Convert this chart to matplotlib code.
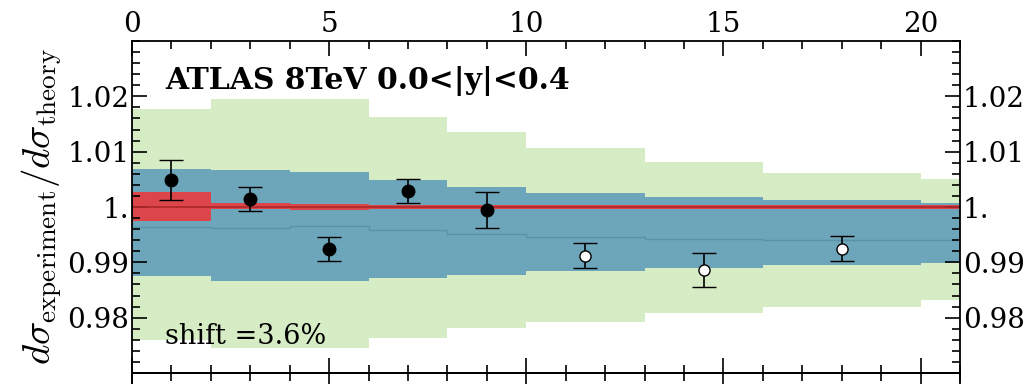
import numpy as np
import matplotlib
matplotlib.use("Agg")
import matplotlib.pyplot as plt
from matplotlib.lines import Line2D
from matplotlib.ticker import MultipleLocator, FixedLocator, FixedFormatter, NullFormatter

# bins in x and the bands
edges = [0, 2, 4, 6, 8, 10, 13, 16, 20, 22]
green_hi = [1.0178, 1.0195, 1.0195, 1.0163, 1.0135, 1.0107, 1.0081, 1.0062, 1.0051]
green_lo = [0.9759, 0.9746, 0.9746, 0.9764, 0.9781, 0.9793, 0.9808, 0.9820, 0.9832]
blue_hi = [1.0069, 1.0066, 1.0064, 1.0049, 1.0036, 1.0025, 1.0018, 1.0012, 1.0008]
blue_lo = [0.9875, 0.9867, 0.9867, 0.9872, 0.9878, 0.9884, 0.9890, 0.9895, 0.9899]
blue_mid = [0.9964, 0.9962, 0.9965, 0.9959, 0.9952, 0.9946, 0.9943, 0.9941, 0.9941]
red_hi = [1.0027, 1.0008, 1.0006, 1.0003, 1.0003, 1.0003, 1.0003, 1.0003, 1.0003]
red_lo = [0.9975, 0.9996, 0.9995, 0.9997, 0.9997, 0.9997, 0.9997, 0.9997, 0.9997]

# data points
x_pts = [1, 3, 5, 7, 9, 11.5, 14.5, 18]
y_pts = [1.0049, 1.0015, 0.9924, 1.0029, 0.9995, 0.9912, 0.9886, 0.9925]
y_err = [0.0036, 0.0022, 0.0022, 0.0022, 0.0033, 0.0023, 0.0031, 0.0022]
filled = [True, True, True, True, True, False, False, False]

y_ticks = [0.98, 0.99, 1.0, 1.01, 1.02]
y_labels = ["0.98", "0.99", "1.", "1.01", "1.02"]

plt.rcParams["font.family"] = ["DejaVu Serif"]
plt.rcParams["mathtext.fontset"] = "cm"

fig = plt.figure(figsize=(10.25, 3.84), dpi=100)
ax = fig.add_axes([0.1288, 0.0286, 0.8078, 0.8646])

ax.stairs(green_hi, edges, baseline=green_lo, fill=True, color="#d6ecc5", lw=0)
ax.stairs(blue_hi, edges, baseline=blue_lo, fill=True, color="#6da6ba", lw=0)
ax.stairs(blue_mid, edges, baseline=None, color="#5a93a8", lw=1)
ax.stairs(red_hi, edges, baseline=red_lo, fill=True, color="#dc464b", lw=0)
ax.axhline(1.0, color="#b02a2a", lw=1.3)

for x, y, e, f in zip(x_pts, y_pts, y_err, filled):
    ax.errorbar(x, y, yerr=e, fmt="o", ms=9 if f else 8,
                mfc="black" if f else "white", mec="black", mew=1,
                ecolor="black", elinewidth=1.2, capsize=8.5, capthick=1.2)

ax.set_xlim(0, 21)
ax.set_ylim(0.97, 1.03)

ax.xaxis.set_major_locator(MultipleLocator(5))
ax.xaxis.set_minor_locator(MultipleLocator(1))
ax.yaxis.set_major_locator(FixedLocator(y_ticks))
ax.yaxis.set_major_formatter(FixedFormatter(y_labels))
ax.yaxis.set_minor_locator(MultipleLocator(0.002))

ax.tick_params(axis="both", which="both", direction="in", top=True, right=True,
               labeltop=True, labelbottom=False, labelleft=True, labelright=True,
               labelsize=20, width=1.2, pad=2)
ax.tick_params(axis="both", which="major", length=11)
ax.tick_params(axis="both", which="minor", length=6)
for s in ax.spines.values():
    s.set_linewidth(1.3)

# the panel below starts here: its ticks poke out under the bottom spine
sec = ax.secondary_xaxis("bottom")
sec.xaxis.set_major_locator(MultipleLocator(5))
sec.xaxis.set_minor_locator(MultipleLocator(1))
sec.xaxis.set_major_formatter(NullFormatter())
sec.tick_params(which="both", direction="out", width=1.2)
sec.tick_params(which="major", length=11)
sec.tick_params(which="minor", length=6)
sec.spines["bottom"].set_linewidth(1.3)
for xf in (0.1288, 0.9366):
    fig.add_artist(Line2D([xf, xf], [0, 0.0286], color="black", lw=1.3))

ax.text(0.04, 0.88, "ATLAS 8TeV 0.0<|y|<0.4", transform=ax.transAxes,
        fontsize=21.5, fontweight="bold", va="center", ha="left")
ax.text(0.04, 0.11, "shift =3.6%", transform=ax.transAxes,
        fontsize=19.5, va="center", ha="left")

ax.set_ylabel(r"$d\sigma_{\rm experiment}/d\sigma_{\rm theory}$", fontsize=28, labelpad=2)

fig.savefig("out.png", dpi=100)
